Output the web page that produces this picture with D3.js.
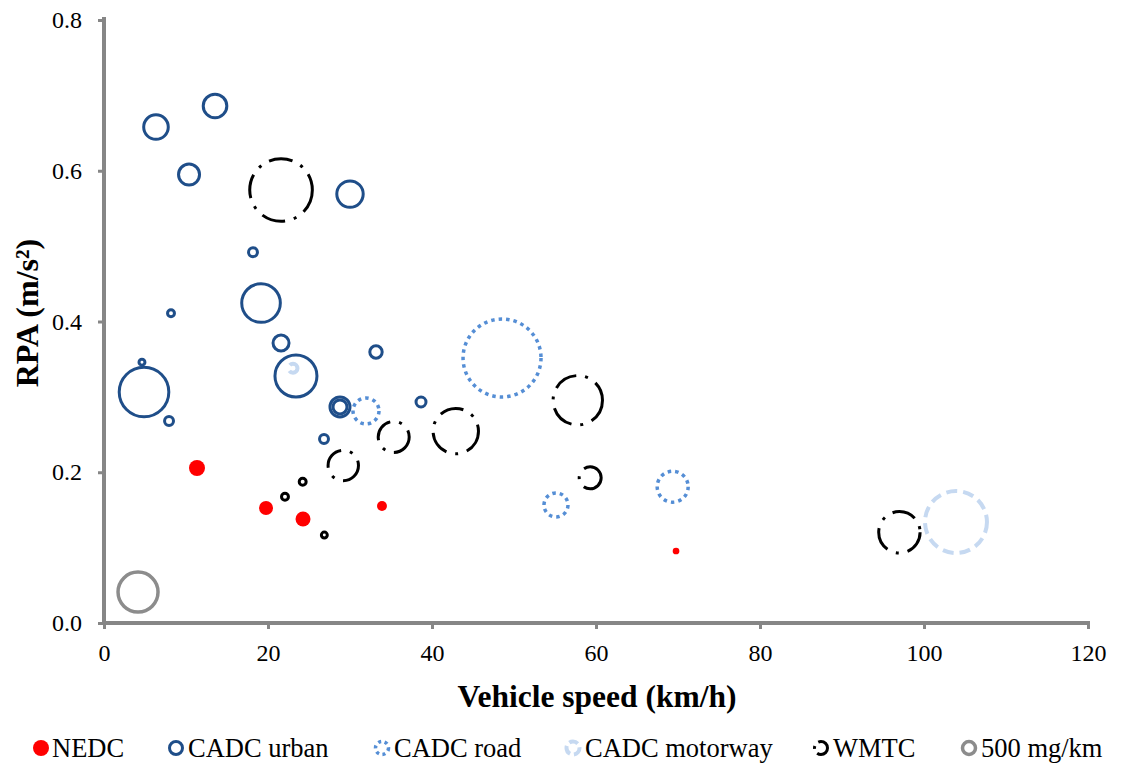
<!DOCTYPE html>
<html>
<head>
<meta charset="utf-8">
<script src="https://cdn.jsdelivr.net/npm/d3@7"></script>
<style>
  html, body { margin: 0; padding: 0; background: #fff; }
  svg { display: block; font-family: "Liberation Serif", "Times New Roman", serif; }
</style>
</head>
<body>
<svg id="chart" width="1124" height="767"></svg>
<script>
// ---- Data (x: vehicle speed km/h, y: RPA m/s², size: mg/km) ----
const nedcX    = [11.34, 19.76, 24.27, 33.90, 69.76];
const nedcY    = [0.2056, 0.1526, 0.1380, 0.1552, 0.0955];
const nedcSize = [80, 61, 70, 31, 14];

const urbanX    = [13.54, 6.34, 10.37, 30.0, 18.17, 19.15, 8.17, 21.59, 33.17, 4.63, 4.88, 7.93, 23.41, 28.78, 28.78, 26.83, 38.66];
const urbanY    = [0.686, 0.658, 0.595, 0.569, 0.492, 0.4245, 0.411, 0.3715, 0.3595, 0.346, 0.3065, 0.268, 0.3277, 0.2866, 0.2866, 0.244, 0.2932];
const urbanSize = [174, 189, 138, 218, 25, 466, 15, 80, 48, 11, 769, 25, 551, 125, 61, 25, 31];

const roadX    = [48.54, 31.95, 55.12, 69.35];
const roadY    = [0.3516, 0.2813, 0.1566, 0.1808];
const roadSize = [1900, 211, 180, 300];

const motorwayX    = [103.9, 23.05];
const motorwayY    = [0.134, 0.338];
const motorwaySize = [1200, 25];

const wmtcX    = [21.59, 57.78, 42.9, 35.33, 29.18, 59.29, 24.23, 22.07, 26.87, 97.0];
const wmtcY    = [0.5745, 0.2955, 0.2545, 0.2468, 0.209, 0.1926, 0.1875, 0.1676, 0.1167, 0.1203];
const wmtcSize = [1225, 762, 644, 300, 289, 151, 15, 15, 11, 536];

const refX    = [4.15];
const refY    = [0.041];
const refSize = [500];

const xTicks = [0, 20, 40, 60, 80, 100, 120];
const yTicks = [0, 0.2, 0.4, 0.6, 0.8];
const legendLabels = ["NEDC", "CADC urban", "CADC road", "CADC motorway", "WMTC", "500 mg/km"];

// ---- Styles ----
const series = [
  { name: legendLabels[0], xs: nedcX, ys: nedcY, ss: nedcSize, fill: "#FF0000", stroke: "none", sw: 0, dash: null, ldash: null },
  { name: legendLabels[1], xs: urbanX, ys: urbanY, ss: urbanSize, fill: "none", stroke: "#1F4E89", sw: 3, dash: null, ldash: null },
  { name: legendLabels[2], xs: roadX, ys: roadY, ss: roadSize, fill: "none", stroke: "#558ED5", sw: 3.5, dash: "3.5,4", ldash: "3,3.5" },
  { name: legendLabels[3], xs: motorwayX, ys: motorwayY, ss: motorwaySize, fill: "none", stroke: "#C6D9F1", sw: 4, dash: "11,6", ldash: "9,4" },
  { name: legendLabels[4], xs: wmtcX, ys: wmtcY, ss: wmtcSize, fill: "none", stroke: "#000000", sw: 3, dash: "24,9,3,9", ldash: "14,5,3,5" },
  { name: legendLabels[5], xs: refX, ys: refY, ss: refSize, fill: "none", stroke: "#8C8C8C", sw: 3.5, dash: null, ldash: null }
];

const svg = d3.select("#chart");
const x = d3.scaleLinear().domain([0, 120]).range([104, 1088]);
const y = d3.scaleLinear().domain([0, 0.8]).range([623, 20]);
const r = d3.scaleSqrt().domain([0, 500]).range([0, 20]);

const axisColor = "#868686";

// Axes
const gy = svg.append("g").attr("transform", `translate(${x(0)},0)`)
  .call(d3.axisLeft(y).tickValues(yTicks).tickFormat(d3.format(".1f")).tickSize(6).tickSizeOuter(0).tickPadding(16));
const gx = svg.append("g").attr("transform", `translate(0,${y(0)})`)
  .call(d3.axisBottom(x).tickValues(xTicks).tickFormat(d3.format("d")).tickSize(6).tickSizeOuter(0).tickPadding(15));

[gy, gx].forEach(g => {
  g.select(".domain").attr("stroke", axisColor).attr("stroke-width", 4);
  g.selectAll(".tick line").attr("stroke", axisColor).attr("stroke-width", 3);
  g.selectAll(".tick text").attr("fill", "#000").style("font-size", "24px").style("font-family", "Liberation Serif");
});
gy.select(".domain").attr("d", `M0,${y(0.8) - 3}V${y(0) + 2}`);
gx.select(".domain").attr("d", `M${x(0) - 2},0H${x(120) + 2}`);

// Axis titles
svg.append("text")
  .attr("x", 597).attr("y", 707)
  .attr("text-anchor", "middle")
  .style("font-size", "31.5px").style("font-weight", "bold")
  .text("Vehicle speed (km/h)");

svg.append("text")
  .attr("transform", `translate(38,313) rotate(-90)`)
  .attr("text-anchor", "middle")
  .style("font-size", "32px").style("font-weight", "bold")
  .text("RPA (m/s²)");

// Bubbles
const plot = svg.append("g");
series.forEach(s => {
  const pts = s.xs.map((v, i) => ({ x: v, y: s.ys[i], s: s.ss[i] }));
  plot.append("g").selectAll("circle").data(pts).join("circle")
    .attr("cx", d => x(d.x))
    .attr("cy", d => y(d.y))
    .attr("r", d => r(d.s))
    .attr("fill", s.fill)
    .attr("stroke", s.stroke)
    .attr("stroke-width", s.sw)
    .attr("stroke-dasharray", s.dash);
});

// Legend
const legendX = [41, 176, 382, 573, 821, 969];
const legendY = 748;
const lg = svg.append("g");
series.forEach((s, i) => {
  const g = lg.append("g").attr("transform", `translate(${legendX[i]},${legendY})`);
  const isFilled = s.fill !== "none";
  g.append("circle")
    .attr("r", isFilled ? 8 : 6.5)
    .attr("fill", s.fill)
    .attr("stroke", s.stroke)
    .attr("stroke-width", s.sw)
    .attr("stroke-dasharray", s.ldash);
  g.append("text")
    .attr("x", isFilled ? 11 : 12)
    .attr("y", 8.5)
    .style("font-size", "26.5px")
    .text(s.name);
});
</script>
</body>
</html>
